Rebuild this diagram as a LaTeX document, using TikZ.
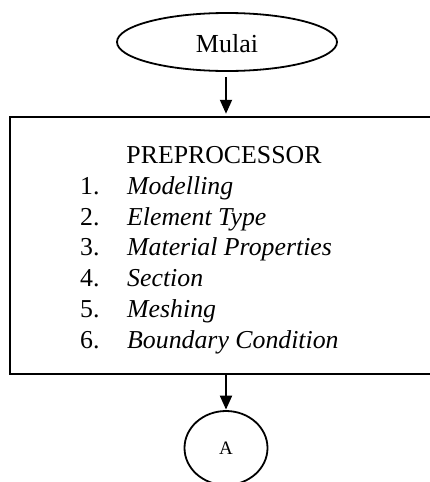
\documentclass[tikz,border=0pt]{standalone}
\usepackage{fontspec}
\setmainfont{Liberation Serif}
\usetikzlibrary{shapes.geometric,arrows.meta}
\begin{document}
\begin{tikzpicture}[x=1pt,y=-1pt,
  term/.style={ellipse,draw,line width=1.8pt,inner sep=0pt,font=\fontsize{26}{30}\selectfont},
  procbox/.style={rectangle,draw,line width=2.5pt,inner sep=0pt},
  conn/.style={ellipse,draw,line width=1.8pt,inner sep=0pt,font=\fontsize{19}{20}\selectfont},
  flow/.style={line width=2pt,-{Triangle[width=12pt,length=14pt]}},
  itemtxt/.style={anchor=base west,inner sep=0pt,font=\fontsize{25.8}{30}\selectfont}]
\useasboundingbox (0,0) rectangle (430,482);
\node[term,minimum width=220pt,minimum height=58pt] (mulai) at (227,42) {};
\node[inner sep=0pt,anchor=base,font=\fontsize{26}{30}\selectfont] (mulaitxt) at (227,52) {Mulai};
\node[procbox,minimum width=432pt,minimum height=257pt] (box) at (226,245.5) {};
\node[itemtxt,anchor=base] (title) at (224,163) {PREPROCESSOR};
\node[itemtxt] (n1) at (80,194) {1.};
\node[itemtxt] (t1) at (127,194) {\itshape Modelling};
\node[itemtxt] (n2) at (80,225) {2.};
\node[itemtxt] (t2) at (127,225) {\itshape Element Type};
\node[itemtxt] (n3) at (80,255) {3.};
\node[itemtxt] (t3) at (127,255) {\itshape Material Properties};
\node[itemtxt] (n4) at (80,286) {4.};
\node[itemtxt] (t4) at (127,286) {\itshape Section};
\node[itemtxt] (n5) at (80,317) {5.};
\node[itemtxt] (t5) at (127,317) {\itshape Meshing};
\node[itemtxt] (n6) at (80,348) {6.};
\node[itemtxt] (t6) at (127,348) {\itshape Boundary Condition};
\node[conn,minimum width=83pt,minimum height=74pt] (a) at (226,448) {};
\node[inner sep=0pt,anchor=base,font=\fontsize{19}{20}\selectfont] (atxt) at (226,454.5) {A};
\draw[flow,shorten <=5pt,shorten >=2pt] (box.north |- mulai.south) -- (box.north);
\draw[flow,shorten >=0.5pt] (box.south) -- (a.north);
\end{tikzpicture}
\end{document}
